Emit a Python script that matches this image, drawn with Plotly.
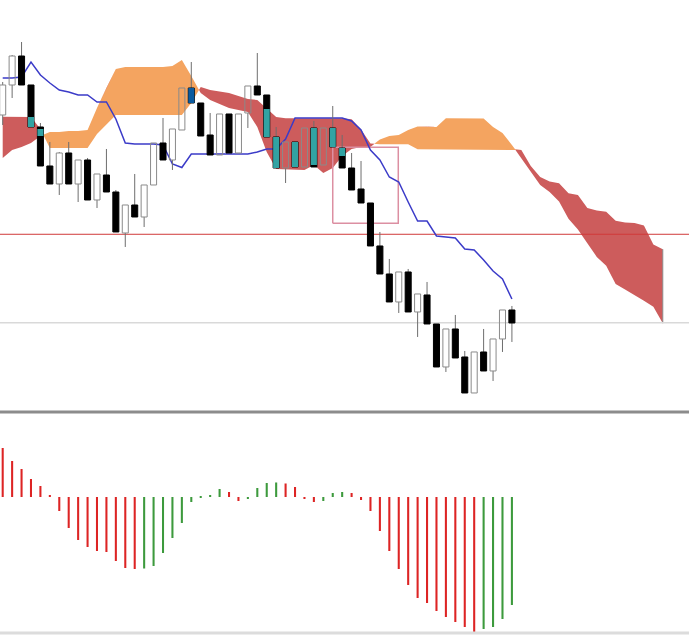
import plotly.graph_objects as go

# daily candles, oldest first (price units)
candle_open = [385, 415, 444, 415, 373, 334, 316, 347, 316, 340, 300, 325, 308, 267, 295,
               283, 315, 357, 340, 370, 412, 397, 365, 345, 386, 347, 387, 414, 405, 363,
               332, 358, 333, 372, 335, 372, 352, 332, 311, 297, 254, 226, 198, 228, 188,
               205, 176, 133, 171, 143, 107, 148, 129, 161, 190]
candle_high = [418, 445, 458, 415, 377, 358, 348, 358, 340, 342, 326, 351, 310, 295, 326,
               315, 357, 382, 371, 412, 438, 397, 387, 386, 386, 386, 414, 447, 405, 373,
               358, 358, 372, 379, 372, 394, 365, 347, 339, 297, 268, 241, 228, 231, 206,
               218, 176, 171, 185, 149, 148, 171, 161, 190, 194]
candle_low = [375, 402, 415, 373, 334, 316, 305, 316, 298, 300, 292, 308, 268, 253, 283,
              273, 315, 340, 330, 370, 397, 364, 345, 345, 347, 347, 372, 405, 363, 332,
              317, 333, 333, 333, 335, 353, 332, 310, 297, 254, 226, 198, 187, 188, 163,
              176, 133, 128, 142, 107, 107, 129, 119, 148, 158]
candle_close = [415, 444, 415, 373, 334, 316, 347, 316, 340, 300, 326, 308, 268, 295, 283,
                315, 357, 340, 371, 412, 397, 364, 345, 386, 347, 386, 414, 405, 363, 332,
                358, 333, 372, 333, 372, 353, 332, 310, 297, 254, 226, 198, 228, 188, 206,
                176, 133, 171, 142, 107, 148, 129, 161, 190, 177]

# kijun-sen
kijun = [422, 422, 423, 438, 425, 417, 410, 408, 405, 405, 398, 398, 381, 357, 356,
         356, 356, 355, 336, 332.5, 346, 346, 346, 346, 346, 346, 346, 348, 351, 351,
         361, 382, 382, 382, 382, 382, 382, 379, 370, 350, 340, 323, 318, 298, 279,
         279, 264, 263, 262, 251, 250, 240, 229, 221, 201]

# senkou span A / B (shifted forward, so longer than the candles)
span_a = [342, 350, 353, 357, 364, 368, 368, 369, 369, 370, 392, 412, 431, 433, 433,
          433, 433, 433, 434, 440, 424, 407, 400, 396, 392, 390, 388, 373, 348, 331,
          330.5, 330, 330, 335, 327, 332, 344, 351, 353, 353, 360.5, 364, 365, 370, 373.5,
          373.5, 373, 381.7, 381.7, 381.7, 381.7, 381.5, 373, 367, 355, 342, 329, 315,
          308, 298.5, 281.2, 270.5, 256.7, 243.1, 234.2, 216, 210.5, 205.1, 199.2, 193.2,
          176.7]
span_b = [383.3, 383.3, 383.3, 383, 371, 352, 352, 352, 352, 352, 366, 376, 385, 385, 385,
          385, 385, 385, 385, 385, 397, 413, 410, 408.5, 407, 404, 401, 400, 391, 383,
          381.7, 381.7, 381.7, 381.7, 381.7, 381.7, 381.7, 380.7, 370.5, 356.5, 355.7, 355.7,
          355.7, 355.7, 350.7, 350.7, 350.7, 350.7, 350.7, 350.7, 350.7, 350.7, 350.7, 350.7,
          350.7, 350, 334, 323, 318.5, 316.7, 306.7, 305, 292, 289.5, 288.3, 279.3, 277.5,
          277, 274.6, 255.5, 250.7]

# oscillator histogram
ao_hist = [49, 36, 28, 18, 11, 2, -14, -31, -43, -50, -54, -55, -64, -71, -72,
           -71.5, -69, -56, -41, -26, -5, 1, 2, 8, 5, -4, -2, 9, 14, 14.5,
           13.5, 10, -1, -5, -4, 4, 5, 4, -3, -14, -34, -54, -72, -88, -101,
           -106, -114, -120, -125, -130, -137, -132, -130, -122, -108]

level_red = 265.7
level_gray = 177.3
box_x = [35.0, 41.95]
box_price = [276.7, 352.7]

n = len(candle_open)
hw = 0.32  # half body width, in bars

fig = go.Figure()

# cloud, with crossing points added so the colours meet cleanly
cx, ca, cb = [], [], []
for i in range(len(span_a)):
    if i > 0:
        d0 = span_a[i - 1] - span_b[i - 1]
        d1 = span_a[i] - span_b[i]
        if d0 * d1 < 0:
            t = d0 / (d0 - d1)
            yc = span_a[i - 1] + t * (span_a[i] - span_a[i - 1])
            cx.append(i - 1 + t)
            ca.append(yc)
            cb.append(yc)
    cx.append(i)
    ca.append(span_a[i])
    cb.append(span_b[i])
top = [max(a, b) for a, b in zip(ca, cb)]

for base, col in [(cb, "#f4a460"), (ca, "#cd5c5c")]:
    fig.add_trace(go.Scatter(x=cx, y=base, mode="lines", line=dict(width=0),
                             hoverinfo="skip"))
    fig.add_trace(go.Scatter(x=cx, y=top, mode="lines", line=dict(width=0),
                             fill="tonexty", fillcolor=col, hoverinfo="skip"))

# grey edge where the cloud ends
last = len(span_a) - 1
fig.add_trace(go.Scatter(x=[last, last], y=[span_a[last], span_b[last]], mode="lines",
                         line=dict(color="#8c8c8c", width=1), hoverinfo="skip"))

# level lines
fig.add_trace(go.Scatter(x=[-1, 80], y=[level_gray, level_gray], mode="lines",
                         line=dict(color="#d9d9d9", width=1.5), hoverinfo="skip"))
fig.add_trace(go.Scatter(x=[-1, 80], y=[level_red, level_red], mode="lines",
                         line=dict(color="#d03a3a", width=1), hoverinfo="skip"))

# box
fig.add_trace(go.Scatter(
    x=[box_x[0], box_x[1], box_x[1], box_x[0], box_x[0]],
    y=[box_price[0], box_price[0], box_price[1], box_price[1], box_price[0]],
    mode="lines", line=dict(color="#dc8fa2", width=1.5), hoverinfo="skip"))

# kijun
fig.add_trace(go.Scatter(x=list(range(n)), y=kijun, mode="lines",
                         line=dict(color="#3b3bc8", width=1.5), hoverinfo="skip"))


def rects(items):
    xs, ys = [], []
    for i, lo, hi in items:
        xs += [i - hw, i + hw, i + hw, i - hw, i - hw, None]
        ys += [lo, lo, hi, hi, lo, None]
    return xs, ys


# wicks
wx, wy = [], []
for i in range(n):
    o, h, l, c = candle_open[i], candle_high[i], candle_low[i], candle_close[i]
    wx += [i, i, None, i, i, None]
    wy += [h, max(o, c), None, min(o, c), l, None]
fig.add_trace(go.Scatter(x=wx, y=wy, mode="lines", line=dict(color="#6e6e6e", width=1),
                         hoverinfo="skip"))

up = [(i, candle_open[i], candle_close[i]) for i in range(n) if candle_close[i] >= candle_open[i]]
dn = [(i, candle_close[i], candle_open[i]) for i in range(n) if candle_close[i] < candle_open[i]]

xs, ys = rects(up)
fig.add_trace(go.Scatter(x=xs, y=ys, mode="lines", fill="toself",
                         fillcolor="rgba(0,0,0,0)", line=dict(color="#8a8a8a", width=1),
                         hoverinfo="skip"))
xs, ys = rects(dn)
fig.add_trace(go.Scatter(x=xs, y=ys, mode="lines", fill="toself", fillcolor="black",
                         line=dict(color="black", width=1), hoverinfo="skip"))

# bearish bodies inside the cloud are drawn inverted (xor look)
teal, blue = [], []
for i, lo, hi in dn:
    a, b = span_a[i], span_b[i]
    olo, ohi = max(lo, min(a, b)), min(hi, max(a, b))
    if ohi > olo:
        (teal if b > a else blue).append((i, olo, ohi))
for items, col in [(teal, "#32a3a3"), (blue, "#0b5b9f")]:
    if items:
        xs, ys = rects(items)
        fig.add_trace(go.Scatter(x=xs, y=ys, mode="lines", fill="toself", fillcolor=col,
                                 line=dict(width=0), hoverinfo="skip"))

# histogram, green when rising
bar_cols = ["#dd2424"] + ["#3d9a3d" if ao_hist[i] > ao_hist[i - 1] else "#dd2424"
                          for i in range(1, len(ao_hist))]
fig.add_trace(go.Bar(x=list(range(len(ao_hist))), y=ao_hist, marker_color=bar_cols,
                     marker_line_width=0, width=0.22, xaxis="x2", yaxis="y2",
                     hoverinfo="skip"))

xr = [-0.286, 72.78]
fig.update_layout(
    width=689, height=637,
    margin=dict(l=0, r=0, t=0, b=0),
    paper_bgcolor="white", plot_bgcolor="white",
    showlegend=False,
    xaxis=dict(domain=[0, 1], range=xr, visible=False, anchor="y"),
    yaxis=dict(domain=[0.3564, 1], range=[90, 500], visible=False),
    xaxis2=dict(domain=[0, 1], range=xr, visible=False, anchor="y2"),
    yaxis2=dict(domain=[0, 0.3501], range=[-140, 83], visible=False),
    shapes=[
        dict(type="line", xref="paper", yref="paper", x0=0, x1=1, y0=0.3532, y1=0.3532,
             line=dict(color="#8c8c8c", width=3)),
        dict(type="line", xref="paper", yref="paper", x0=0, x1=1, y0=0.0063, y1=0.0063,
             line=dict(color="#dcdcdc", width=3)),
    ],
)

# page has a default 8px body margin; drop it so the chart fills the window
fig.write_html("out.html", config={"displayModeBar": False},
               post_script="document.body.style.margin='0';")
